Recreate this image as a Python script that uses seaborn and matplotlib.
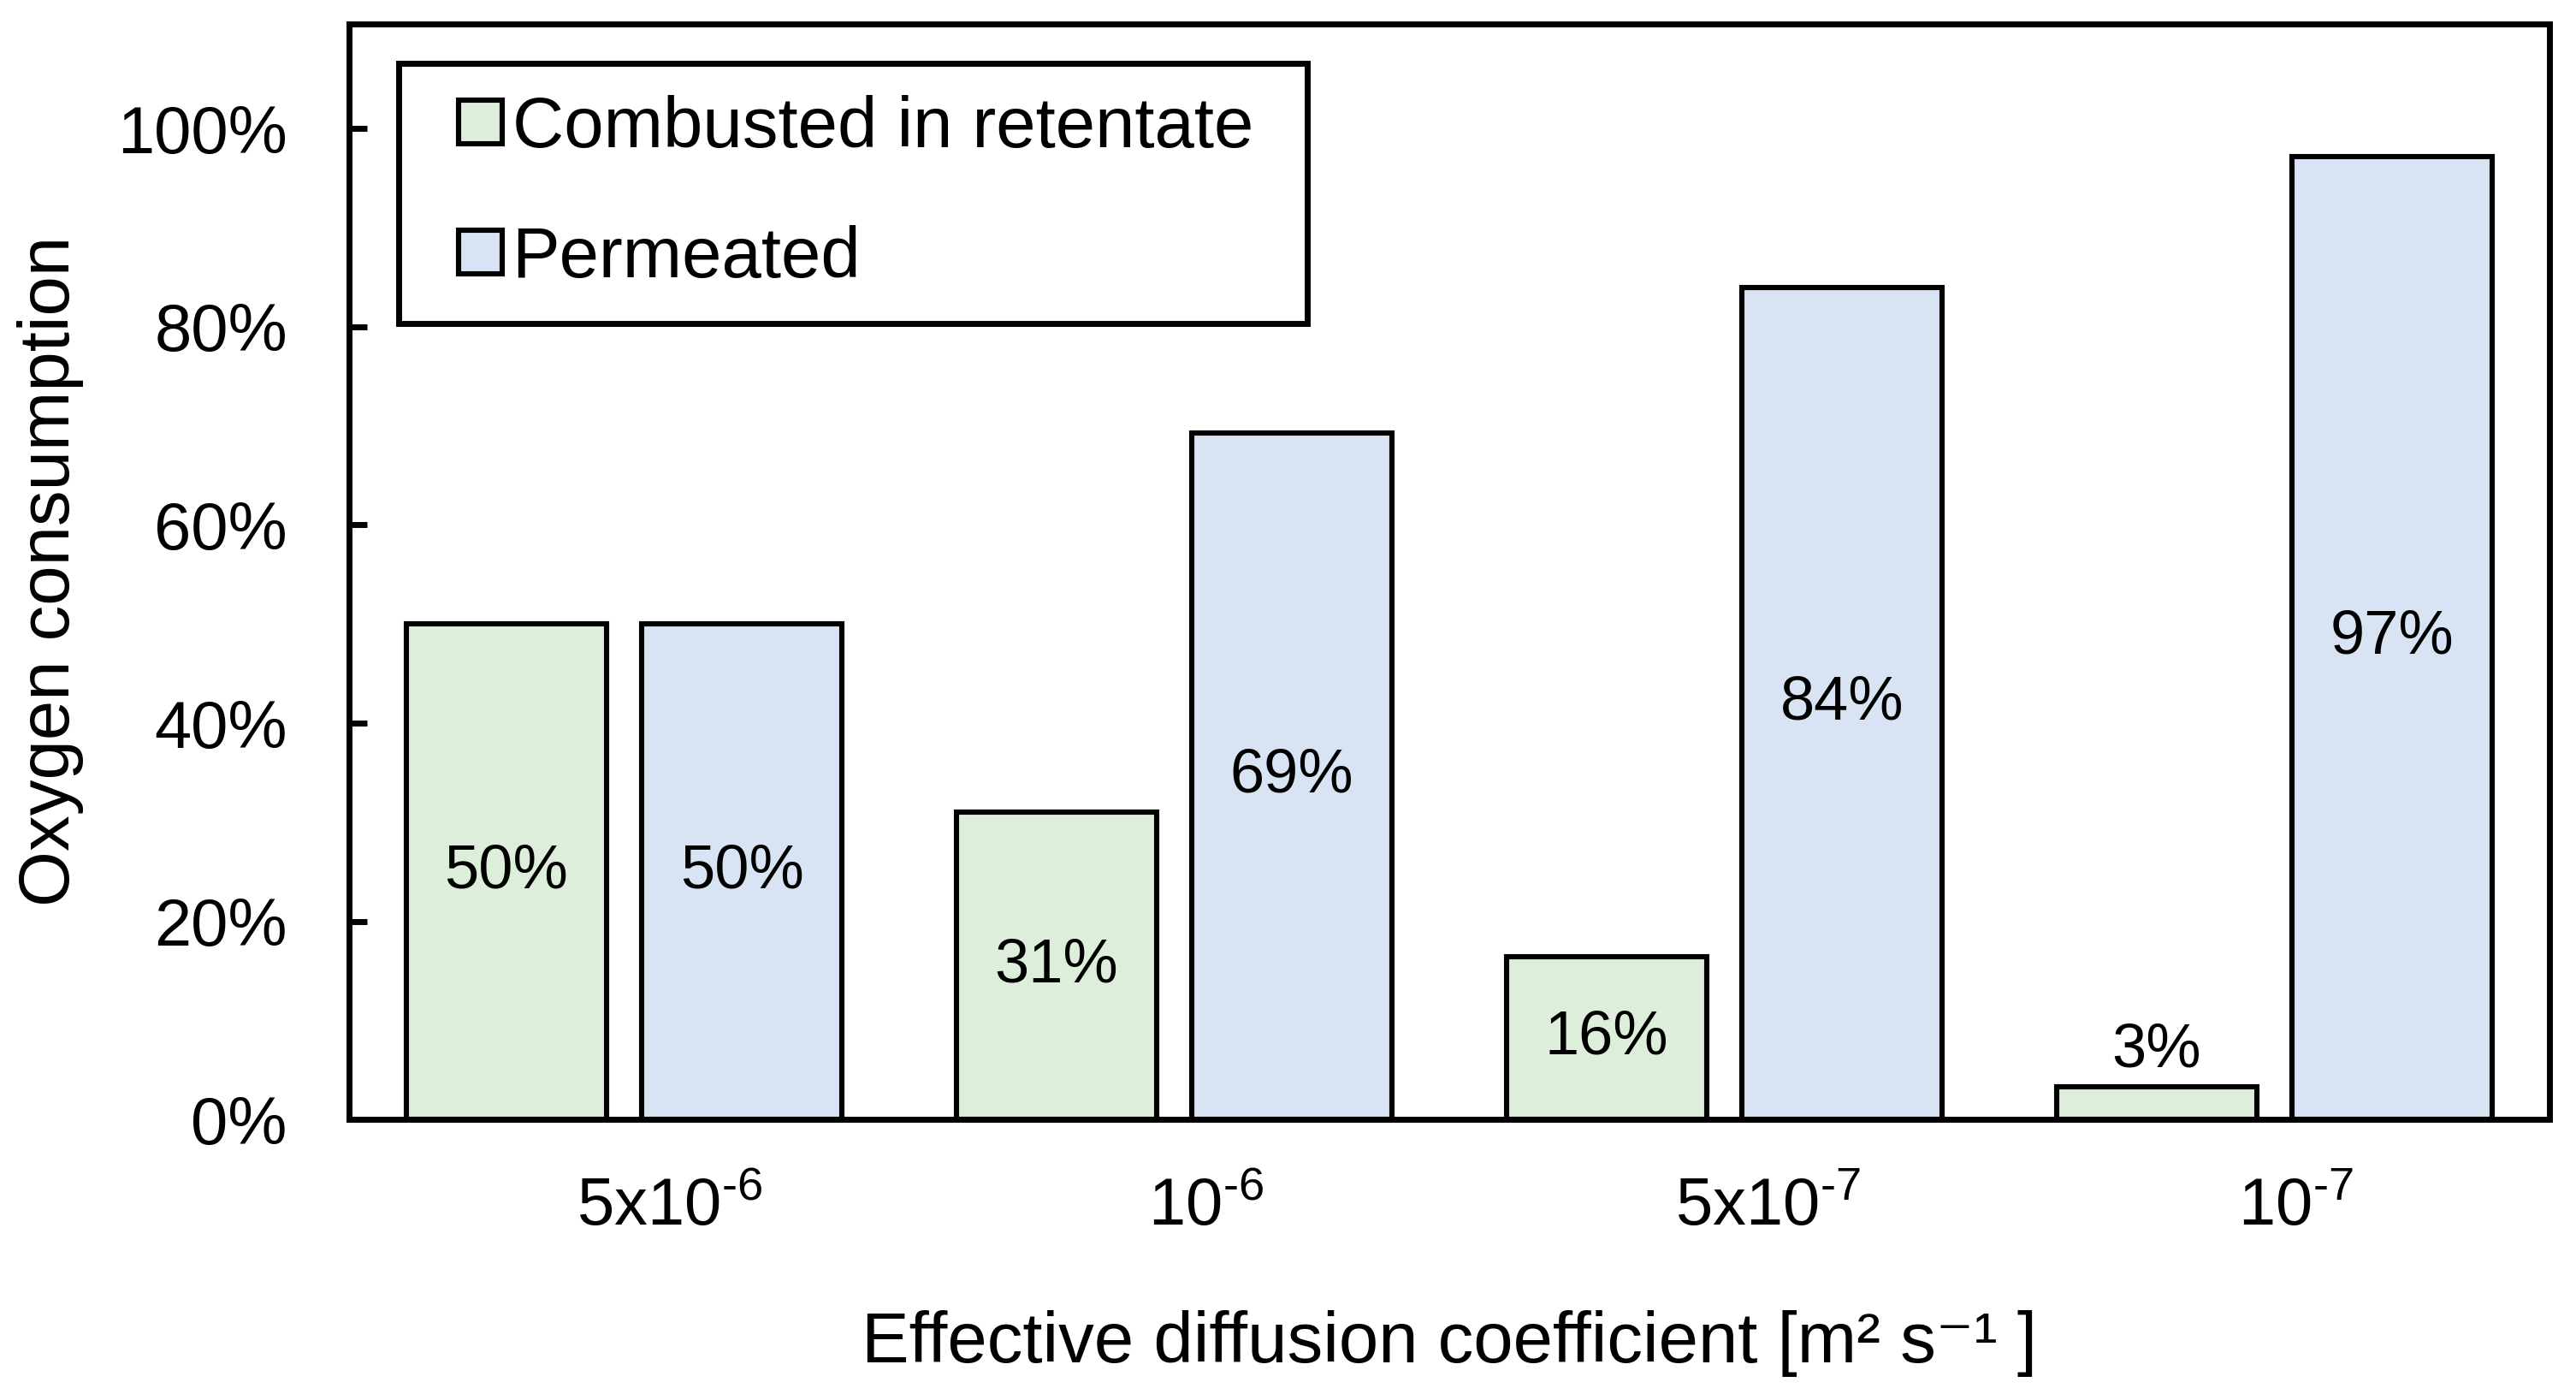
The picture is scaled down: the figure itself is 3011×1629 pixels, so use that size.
import matplotlib
matplotlib.use('Agg')
import matplotlib.pyplot as plt
import matplotlib.ticker as mtick
import matplotlib.transforms as mtrans
from matplotlib.patches import Patch, Rectangle
from matplotlib.legend_handler import HandlerPatch
import numpy as np
import pandas as pd
import seaborn as sns

coefs = ['5x10$^{\\text{-}6}$', '10$^{\\text{-}6}$', '5x10$^{\\text{-}7}$', '10$^{\\text{-}7}$']
series = ['Combusted in retentate', 'Permeated']
combusted = [50, 31, 16.4, 3.3]
permeated = [50, 69.3, 84, 97.2]
combusted_lbl = ['50%', '31%', '16%', '3%']
permeated_lbl = ['50%', '69%', '84%', '97%']
colors = ['#DDEFDA', '#D8E4F3']

sns.set_theme(style='white')
plt.rcParams['font.family'] = ['Liberation Sans', 'DejaVu Sans']
plt.rcParams['mathtext.fontset'] = 'custom'
plt.rcParams['mathtext.rm'] = 'Liberation Sans'
plt.rcParams['mathtext.it'] = 'Liberation Sans:italic'
plt.rcParams['mathtext.bf'] = 'Liberation Sans:bold'
for k in ['text.color', 'axes.labelcolor', 'xtick.color', 'ytick.color']:
  plt.rcParams[k] = 'black'

df = pd.DataFrame({
  'coef': coefs * 2,
  'series': [series[0]] * 4 + [series[1]] * 4,
  'value': combusted + permeated,
})

fig = plt.figure(figsize=(15.055, 8.145), dpi=200)
ax = fig.add_axes([0.1355, 0.197, 0.9897 - 0.1355, 0.983 - 0.197])
sns.barplot(data=df, x='coef', y='value', hue='series', order=coefs,
            hue_order=series, palette=colors, edgecolor='black',
            linewidth=2.2, width=0.856, gap=0.15, saturation=1,
            legend=False, ax=ax)

ax.set_xlim(-0.5, 3.5)
ax.set_ylim(0, 110.6)
ax.set_yticks(np.arange(0, 101, 20))
ax.yaxis.set_major_formatter(mtick.FuncFormatter(lambda v, p: '%d%%' % v))
for s in ax.spines.values():
  s.set_linewidth(2.5)
  s.set_color('black')
ax.tick_params(axis='y', direction='in', length=7.5, width=2.5, pad=26,
               labelsize=28, left=True)
ax.tick_params(axis='x', length=0, pad=24, labelsize=28)

# the x labels sit a bit right of the bar groups in the original
shifts = [19, 13.5, 18.5, 9]
for lab, dx in zip(ax.get_xticklabels(), shifts):
  lab.set_transform(lab.get_transform() + mtrans.ScaledTranslation(dx / 72, 0, fig.dpi_scale_trans))

c0, c1 = ax.containers[0], ax.containers[1]
ax.bar_label(c0, labels=combusted_lbl[:3] + [''], label_type='center', fontsize=26)
ax.bar_label(c0, labels=[''] * 3 + combusted_lbl[3:], label_type='edge', padding=3, fontsize=26)
ax.bar_label(c1, labels=permeated_lbl, label_type='center', fontsize=26)

ax.set_xlabel('Effective diffusion coefficient [m\u00b2 s\u207b\u00b9 ]', fontsize=30, labelpad=30)
ax.set_ylabel('Oxygen consumption', fontsize=30, labelpad=14)

def square(legend, orig_handle, xdescent, ydescent, width, height, fontsize):
  return Rectangle((-xdescent + width - height, -ydescent), height, height)

handles = [Patch(facecolor=colors[i], edgecolor='black', linewidth=2.2, label=series[i])
           for i in range(2)]
leg = ax.legend(handles=handles, loc='upper left', bbox_to_anchor=(0.0226, 0.5, 0.413, 0.464),
                mode='expand', borderaxespad=0, fontsize=30, handlelength=1.0,
                handleheight=0.56, handletextpad=0.14, labelspacing=0.88, borderpad=0.45,
                fancybox=False, frameon=True, framealpha=1,
                handler_map={Patch: HandlerPatch(patch_func=square)})
leg.get_frame().set_edgecolor('black')
leg.get_frame().set_linewidth(2.5)

plt.savefig('out.png', dpi=200)
